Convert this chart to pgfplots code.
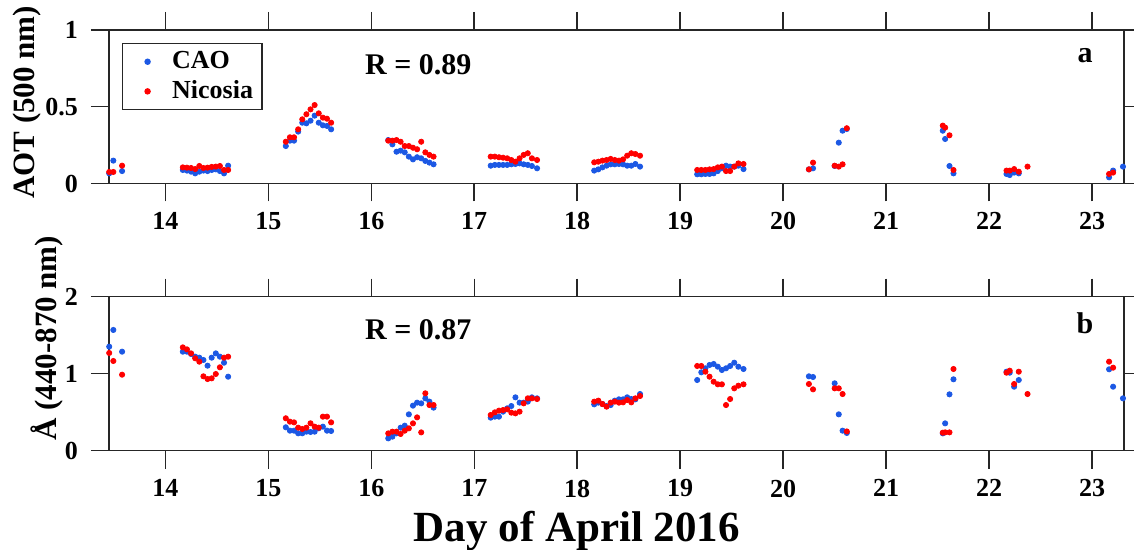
\documentclass[border=0pt]{standalone}
\usepackage{pgfplots}
\pgfplotsset{compat=1.18}
\usepackage{pgfplotstable}
\usepackage{fontspec}
\setmainfont{Liberation Serif}
\definecolor{caoblue}{RGB}{28,88,228}
\definecolor{nicred}{RGB}{255,0,0}
\definecolor{axgray}{RGB}{38,38,38}

\pgfplotstableread{
x y
13.455 0.066
13.495 0.149
13.58 0.081
14.17 0.088
14.21 0.084
14.25 0.077
14.29 0.066
14.33 0.077
14.37 0.084
14.41 0.081
14.45 0.088
14.49 0.092
14.53 0.081
14.57 0.066
14.61 0.116
15.17 0.244
15.21 0.279
15.25 0.279
15.29 0.338
15.33 0.396
15.37 0.392
15.41 0.409
15.45 0.442
15.49 0.396
15.53 0.379
15.57 0.375
15.61 0.353
16.165 0.283
16.205 0.255
16.245 0.207
16.285 0.214
16.325 0.203
16.365 0.175
16.405 0.157
16.445 0.171
16.485 0.164
16.525 0.147
16.565 0.136
16.605 0.125
17.16 0.116
17.20 0.121
17.24 0.121
17.28 0.121
17.32 0.121
17.36 0.125
17.40 0.127
17.44 0.131
17.48 0.125
17.52 0.121
17.56 0.114
17.61 0.099
18.165 0.084
18.205 0.092
18.245 0.105
18.285 0.116
18.325 0.125
18.365 0.125
18.405 0.127
18.445 0.125
18.485 0.116
18.525 0.116
18.565 0.127
18.61 0.110
19.165 0.060
19.205 0.060
19.245 0.062
19.285 0.062
19.325 0.066
19.365 0.081
19.405 0.099
19.445 0.116
19.485 0.110
19.525 0.110
19.565 0.116
19.615 0.094
20.25 0.092
20.29 0.099
20.50 0.114
20.54 0.266
20.577 0.344
20.618 0.355
21.55 0.344
21.573 0.290
21.615 0.114
21.654 0.066
22.169 0.062
22.20 0.055
22.243 0.071
22.288 0.066
23.165 0.040
23.204 0.084
23.30 0.110
}\caoaot

\pgfplotstableread{
x y
13.455 0.075
13.495 0.075
13.58 0.116
14.17 0.105
14.21 0.103
14.25 0.101
14.29 0.094
14.33 0.114
14.37 0.101
14.41 0.103
14.45 0.108
14.49 0.110
14.53 0.114
14.57 0.088
14.61 0.088
15.17 0.272
15.21 0.301
15.25 0.301
15.29 0.353
15.33 0.418
15.37 0.451
15.41 0.483
15.45 0.511
15.49 0.457
15.53 0.429
15.57 0.422
15.61 0.396
16.165 0.279
16.205 0.279
16.245 0.283
16.285 0.272
16.325 0.244
16.365 0.244
16.405 0.233
16.445 0.223
16.485 0.272
16.525 0.203
16.565 0.186
16.605 0.175
17.16 0.175
17.20 0.175
17.24 0.171
17.28 0.168
17.32 0.164
17.36 0.153
17.40 0.142
17.44 0.164
17.48 0.186
17.52 0.197
17.56 0.164
17.61 0.153
18.165 0.138
18.205 0.142
18.245 0.149
18.285 0.153
18.325 0.160
18.365 0.153
18.405 0.149
18.445 0.157
18.485 0.181
18.525 0.197
18.565 0.192
18.61 0.181
19.165 0.088
19.205 0.088
19.245 0.088
19.285 0.092
19.325 0.094
19.365 0.105
19.405 0.110
19.445 0.081
19.485 0.081
19.525 0.110
19.565 0.131
19.615 0.127
20.25 0.092
20.29 0.136
20.50 0.116
20.54 0.110
20.577 0.125
20.618 0.360
21.55 0.377
21.573 0.364
21.615 0.314
21.654 0.088
22.169 0.084
22.20 0.084
22.243 0.094
22.288 0.077
22.373 0.110
23.165 0.062
23.204 0.071
}\nicaot

\pgfplotstableread{
x y
13.455 1.351
13.495 1.568
13.58 1.286
14.17 1.286
14.21 1.286
14.25 1.256
14.29 1.221
14.33 1.208
14.37 1.178
14.41 1.104
14.45 1.208
14.49 1.264
14.53 1.221
14.57 1.143
14.61 0.961
15.17 0.304
15.21 0.260
15.25 0.260
15.29 0.226
15.33 0.226
15.37 0.247
15.41 0.243
15.45 0.247
15.49 0.291
15.53 0.312
15.57 0.260
15.61 0.256
16.165 0.160
16.205 0.182
16.245 0.225
16.285 0.299
16.325 0.325
16.365 0.472
16.405 0.585
16.445 0.624
16.485 0.615
16.525 0.680
16.565 0.637
16.605 0.559
17.16 0.429
17.20 0.442
17.24 0.442
17.28 0.507
17.32 0.550
17.36 0.580
17.40 0.693
17.44 0.624
17.48 0.624
17.52 0.637
17.56 0.693
17.61 0.680
18.165 0.602
18.205 0.624
18.245 0.606
18.285 0.580
18.325 0.593
18.365 0.650
18.405 0.667
18.445 0.667
18.485 0.693
18.525 0.671
18.565 0.667
18.61 0.736
19.165 0.918
19.205 1.018
19.245 1.070
19.285 1.113
19.325 1.126
19.365 1.091
19.405 1.048
19.445 1.070
19.485 1.100
19.525 1.143
19.565 1.091
19.615 1.061
20.25 0.966
20.29 0.957
20.50 0.875
20.54 0.472
20.577 0.260
20.618 0.230
21.55 0.225
21.573 0.355
21.615 0.732
21.654 0.927
22.169 1.026
22.20 1.013
22.243 0.831
22.288 0.918
23.165 1.057
23.204 0.831
23.30 0.680
}\caoae

\pgfplotstableread{
x y
13.455 1.269
13.495 1.165
13.58 0.987
14.17 1.342
14.21 1.316
14.25 1.264
14.29 1.200
14.33 1.156
14.37 0.966
14.41 0.931
14.45 0.940
14.49 0.996
14.53 1.083
14.57 1.208
14.61 1.221
15.17 0.421
15.21 0.377
15.25 0.368
15.29 0.299
15.33 0.282
15.37 0.299
15.41 0.356
15.45 0.312
15.49 0.299
15.53 0.442
15.57 0.442
15.61 0.368
16.165 0.225
16.205 0.247
16.245 0.247
16.285 0.217
16.325 0.260
16.365 0.290
16.405 0.355
16.445 0.433
16.485 0.238
16.525 0.745
16.565 0.593
16.605 0.593
17.16 0.464
17.20 0.498
17.24 0.520
17.28 0.528
17.32 0.537
17.36 0.494
17.40 0.485
17.44 0.507
17.48 0.615
17.52 0.680
17.56 0.680
17.61 0.671
18.165 0.637
18.205 0.650
18.245 0.606
18.285 0.572
18.325 0.624
18.365 0.637
18.405 0.624
18.445 0.628
18.485 0.658
18.525 0.628
18.565 0.680
18.61 0.710
19.165 1.100
19.205 1.100
19.245 1.026
19.285 0.961
19.325 0.896
19.365 0.862
19.405 0.862
19.445 0.593
19.485 0.671
19.525 0.810
19.565 0.844
19.615 0.862
20.25 0.866
20.29 0.797
20.50 0.810
20.54 0.810
20.577 0.736
20.618 0.250
21.55 0.234
21.573 0.238
21.615 0.238
21.654 1.061
22.169 1.013
22.20 1.039
22.243 0.866
22.288 1.026
22.373 0.736
23.165 1.156
23.204 1.078
}\nicae

\pgfplotsset{
  myaxis/.style={
    scale only axis,
    width=507.5pt,
    xmin=13.453, xmax=23.31,
    xtick={14,15,16,17,18,19,20,21,22,23},
    tick align=outside,
    major tick length=9pt,
    axis line style={axgray, line width=0.75pt},
    every tick/.style={axgray, line width=0.75pt},
    ticklabel style={font=\fontsize{13}{15}\selectfont\bfseries, text=black},
    xticklabel style={yshift=-2pt},
    yticklabel style={xshift=-3pt},
    /pgf/number format/assume math mode=true,
    every axis plot/.append style={only marks, mark=*, mark size=1.3pt},
  },
}

\begin{document}
\begin{tikzpicture}
\begin{axis}[myaxis,
  at={(54.5pt,183.25pt)}, anchor=south west,
  height=76.75pt,
  ymin=0, ymax=1, ytick={0,0.5,1},
  every axis y label/.style={at={(axis description cs:-0.0803,0.528)}, rotate=90, anchor=center, font=\fontsize{15.5}{18}\selectfont\bfseries},
  ylabel={AOT (500 nm)},
  legend style={at={(0.0128,0.915)}, anchor=north west, draw=axgray, line width=0.6pt,
    font=\fontsize{13}{15}\selectfont\bfseries, inner xsep=2.5pt, inner ysep=2pt, row sep=0.5pt,
    /tikz/every odd column/.append style={column sep=6.3pt}},
  legend image code/.code={\path[draw=none] (-10pt,0pt) -- (4pt,0pt); \draw[#1] plot coordinates {(0pt,0pt)};},
  legend cell align=left,
]
\addplot[color=caoblue, mark options={draw=none, fill=caoblue}] table[x=x,y=y] {\caoaot};
\addlegendentry{CAO}
\addplot[color=nicred, mark options={draw=none, fill=nicred}] table[x=x,y=y] {\nicaot};
\addlegendentry{Nicosia}
\node[anchor=west, inner sep=0pt, font=\fontsize{15}{18}\selectfont\bfseries] at (axis description cs:0.252,0.772) {R = 0.89};
\node[anchor=center, inner sep=0pt, font=\fontsize{15}{18}\selectfont\bfseries] at (axis description cs:0.9616,0.831) {a};
\end{axis}

\begin{axis}[myaxis,
  at={(54.5pt,49.65pt)}, anchor=south west,
  height=77pt,
  ymin=0, ymax=2, ytick={0,1,2},
  every axis y label/.style={at={(axis description cs:-0.0611,0.73)}, rotate=90, anchor=center, font=\fontsize{15.5}{18}\selectfont\bfseries},
  ylabel={Å (440-870 nm)},
  every axis x label/.style={at={(axis description cs:0.461,-0.52)}, anchor=center, font=\fontsize{21.5}{26}\selectfont\bfseries},
  xlabel={Day of April 2016},
]
\addplot[color=caoblue, mark options={draw=none, fill=caoblue}] table[x=x,y=y] {\caoae};
\addplot[color=nicred, mark options={draw=none, fill=nicred}] table[x=x,y=y] {\nicae};
\node[anchor=west, inner sep=0pt, font=\fontsize{15}{18}\selectfont\bfseries] at (axis description cs:0.252,0.784) {R = 0.87};
\node[anchor=center, inner sep=0pt, font=\fontsize{15}{18}\selectfont\bfseries] at (axis description cs:0.9616,0.829) {b};
\end{axis}
\pgfresetboundingbox
\useasboundingbox (0,0) rectangle (567pt,275pt);
\end{tikzpicture}
\end{document}
